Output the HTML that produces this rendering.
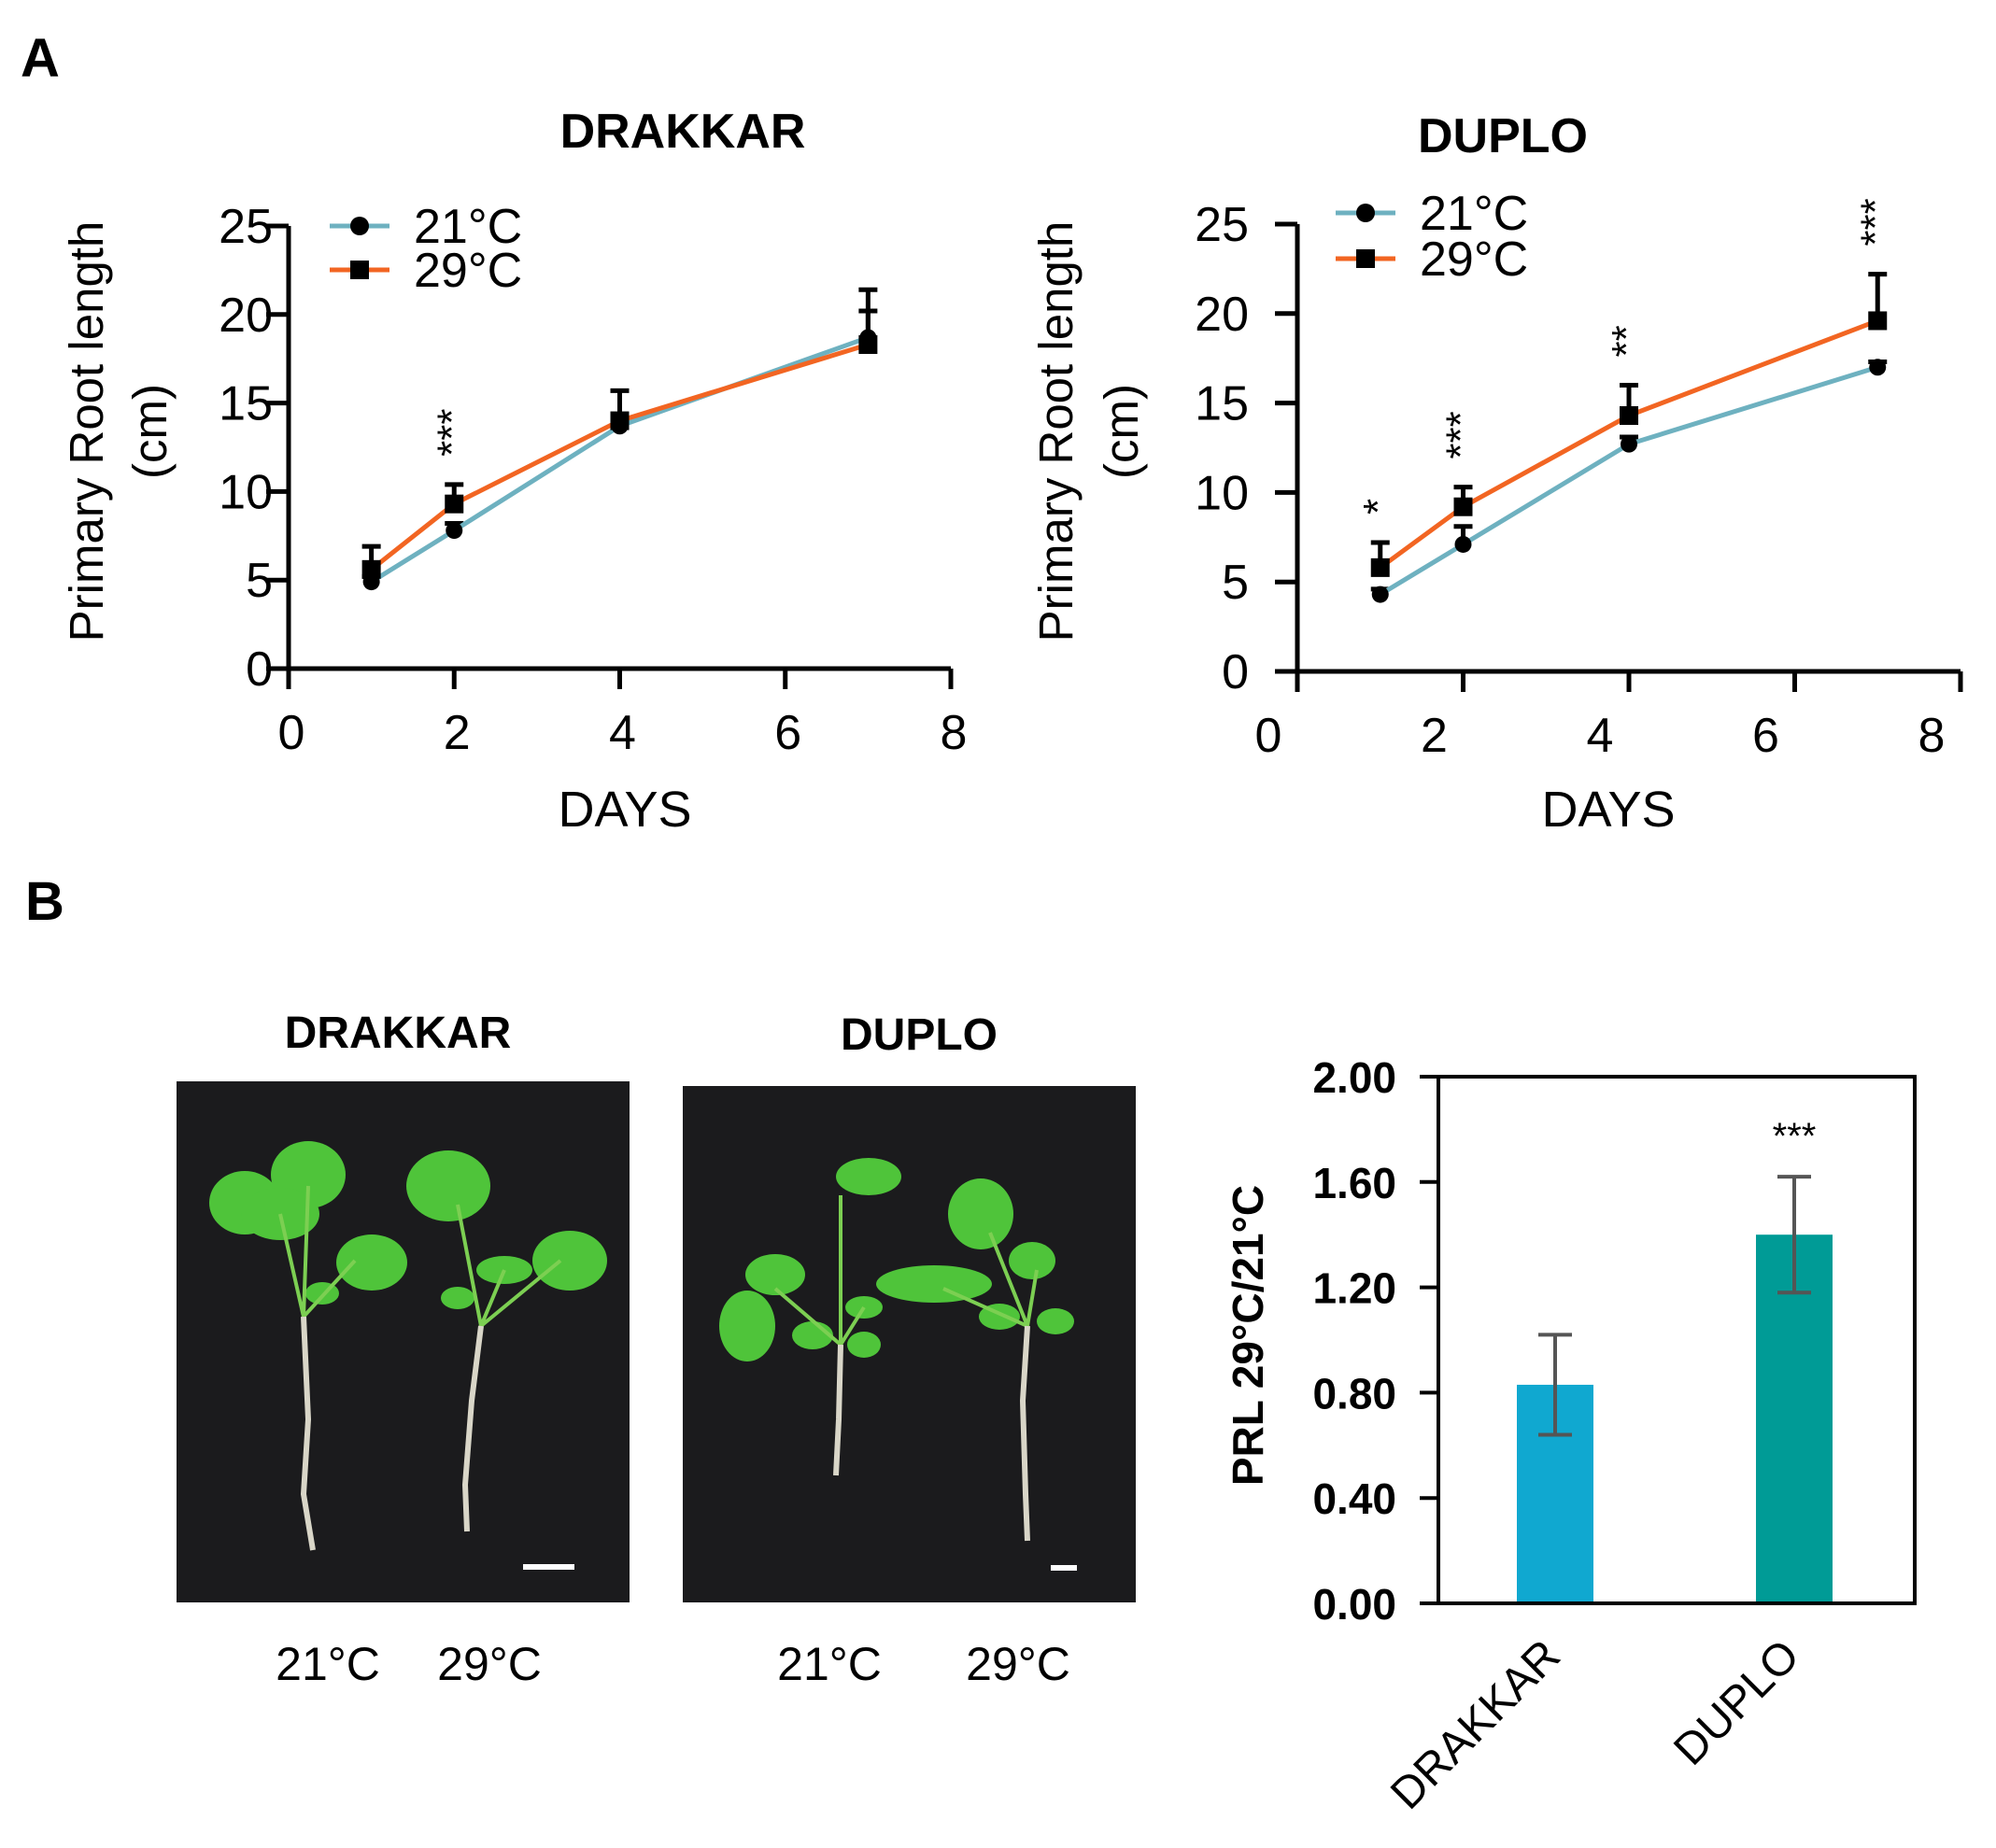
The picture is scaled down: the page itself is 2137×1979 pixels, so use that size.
<!DOCTYPE html>
<html><head><meta charset="utf-8"><style>
html,body{margin:0;padding:0;background:#fff}
svg{display:block;font-family:"Liberation Sans",Arial,sans-serif}
</style></head><body>
<svg id="fig" width="2137" height="1979" viewBox="0 0 2137 1979" xmlns="http://www.w3.org/2000/svg">
<text x="22" y="82" font-size="58" font-weight="bold">A</text>
<text x="27" y="985" font-size="58" font-weight="bold">B</text>
<g id="chartA1"></g>
<g id="chartA2"></g>
<g id="photos">
 <text x="426" y="1122" font-size="48" font-weight="bold" text-anchor="middle">DRAKKAR</text>
 <text x="984" y="1124" font-size="48" font-weight="bold" text-anchor="middle">DUPLO</text>
 <rect x="189" y="1158" width="485" height="558" fill="#1b1b1d"/>
 <rect x="731" y="1163" width="485" height="553" fill="#1b1b1d"/>
 <g fill="#4fc43a">
  <ellipse cx="262" cy="1288" rx="38" ry="34"/><ellipse cx="330" cy="1258" rx="40" ry="36"/><ellipse cx="300" cy="1300" rx="42" ry="28"/><ellipse cx="398" cy="1352" rx="38" ry="30"/><ellipse cx="345" cy="1385" rx="18" ry="12"/>
  <ellipse cx="480" cy="1270" rx="45" ry="38"/><ellipse cx="610" cy="1350" rx="40" ry="32"/><ellipse cx="540" cy="1360" rx="30" ry="15"/><ellipse cx="490" cy="1390" rx="18" ry="12"/>
  <ellipse cx="830" cy="1365" rx="32" ry="22"/><ellipse cx="800" cy="1420" rx="30" ry="38"/><ellipse cx="930" cy="1260" rx="35" ry="20"/><ellipse cx="870" cy="1430" rx="22" ry="15"/><ellipse cx="925" cy="1400" rx="20" ry="12"/><ellipse cx="925" cy="1440" rx="18" ry="14"/>
  <ellipse cx="1050" cy="1300" rx="35" ry="38"/><ellipse cx="1000" cy="1375" rx="62" ry="20"/><ellipse cx="1105" cy="1350" rx="25" ry="20"/><ellipse cx="1130" cy="1415" rx="20" ry="14"/><ellipse cx="1070" cy="1410" rx="22" ry="14"/>
 </g>
 <g stroke="#7ccf52" stroke-width="4" fill="none">
  <path d="M325 1410 L300 1300 M325 1410 L330 1270 M325 1410 L380 1350"/><path d="M515 1420 L490 1290 M515 1420 L600 1350 M515 1420 L540 1360"/>
  <path d="M900 1440 L900 1280 M900 1440 L830 1380 M900 1440 L925 1400"/><path d="M1100 1420 L1060 1320 M1100 1420 L1010 1380 M1100 1420 L1110 1360"/>
 </g>
 <g stroke="#d9d6c8" stroke-width="6" fill="none">
  <path d="M325 1410 L330 1520 L325 1600 L335 1660"/><path d="M515 1420 L505 1500 L498 1590 L500 1640"/>
  <path d="M900 1440 L898 1520 L895 1580"/><path d="M1100 1420 L1095 1500 L1098 1600 L1100 1650"/>
 </g>
 <rect x="560" y="1675" width="55" height="6" fill="#fff"/>
 <rect x="1125" y="1676" width="28" height="6" fill="#fff"/>
 <text x="351" y="1799" font-size="50" text-anchor="middle">21°C</text>
 <text x="524" y="1799" font-size="50" text-anchor="middle">29°C</text>
 <text x="888" y="1799" font-size="50" text-anchor="middle">21°C</text>
 <text x="1090" y="1799" font-size="50" text-anchor="middle">29°C</text>
</g>
<g id="chartB"></g>
</svg>
<script>
const days = [1, 2, 4, 7];
const drakkar21 = [4.9, 7.8, 13.7, 18.7];
const drakkar21Err = [0.3, 0.4, 0.4, 1.5];
const drakkar29 = [5.6, 9.3, 14.0, 18.3];
const drakkar29Err = [1.3, 1.1, 1.7, 3.1];
const drakkarStars = ["", "***", "", ""];
const duplo21 = [4.3, 7.1, 12.7, 17.0];
const duplo21Err = [0.3, 1.0, 0.4, 0.3];
const duplo29 = [5.8, 9.2, 14.3, 19.6];
const duplo29Err = [1.4, 1.1, 1.7, 2.6];
const duploStars = ["*", "***", "**", "***"];
const xTicks = [0, 2, 4, 6, 8];
const yTicks = [0, 5, 10, 15, 20, 25];
const barCats = ["DRAKKAR", "DUPLO"];
const barVals = [0.83, 1.40];
const barErr = [0.19, 0.22];
const barStars = ["", "***"];
const barTicks = ["0.00", "0.40", "0.80", "1.20", "1.60", "2.00"];

const NS = "http://www.w3.org/2000/svg";
function mk(parent, tag, attrs, txt) {
  const e = document.createElementNS(NS, tag);
  for (const k in attrs) e.setAttribute(k, attrs[k]);
  if (txt !== undefined) e.textContent = txt;
  parent.appendChild(e);
  return e;
}

function lineChart(g, cfg) {
  const X = v => cfg.x0 + (v / 8) * (cfg.x8 - cfg.x0);
  const Y = v => cfg.y0 + (v / 25) * (cfg.y25 - cfg.y0);
  let e;
  e = mk(g, "text", {x: cfg.titleX, y: cfg.titleY, "font-size": 52, "font-weight": "bold", "text-anchor": "middle"}, cfg.title);
  
  
  e = mk(g, "line", {x1: cfg.x0, y1: Y(0), x2: cfg.x8, y2: Y(0), stroke: "#000", "stroke-width": 5});
  
  
  e = mk(g, "line", {x1: cfg.x0, y1: Y(0) + 2, x2: cfg.x0, y2: Y(25), stroke: "#000", "stroke-width": 5});
  
  
  xTicks.forEach(t => {
    const l = mk(g, "line", {x1: X(t), y1: Y(0), x2: X(t), y2: Y(0) + 22, stroke: "#000", "stroke-width": 5});
    
    
    const tx = mk(g, "text", {x: X(t) + cfg.labelShift, y: Y(0) + 86, "font-size": 52, "text-anchor": "middle"}, String(t));
    
    
  });
  yTicks.forEach(t => {
    const l = mk(g, "line", {x1: cfg.x0 - 24, y1: Y(t), x2: cfg.x0, y2: Y(t), stroke: "#000", "stroke-width": 5});
    
    
    const tx = mk(g, "text", {x: cfg.yLabelX, y: Y(t) + 18, "font-size": 52, "text-anchor": "end"}, String(t));
    
    
  });
  e = mk(g, "text", {x: cfg.xTitleX, y: 885, "font-size": 54, "text-anchor": "middle"}, "DAYS");
  
  
  e = mk(g, "text", {transform: `translate(${cfg.yt1},462) rotate(-90)`, "font-size": 51, "text-anchor": "middle"}, "Primary Root length");
  
  
  e = mk(g, "text", {transform: `translate(${cfg.yt2},462) rotate(-90)`, "font-size": 51, "text-anchor": "middle"}, "(cm)");
  
  
  [[cfg.s29, cfg.e29], [cfg.s21, cfg.e21]].forEach(([s, er]) => {
    days.forEach((d, i) => {
      const b = mk(g, "path", {d: `M${X(d)} ${Y(s[i])} V${Y(s[i] + er[i])} M${X(d) - 10} ${Y(s[i] + er[i])} H${X(d) + 10}`, stroke: "#000", "stroke-width": 5, fill: "none"});
      
      
    });
  });
  e = mk(g, "polyline", {points: days.map((d, i) => X(d) + "," + Y(cfg.s21[i])).join(" "), stroke: "#6eb1c0", "stroke-width": 5, fill: "none"});
  
  
  e = mk(g, "polyline", {points: days.map((d, i) => X(d) + "," + Y(cfg.s29[i])).join(" "), stroke: "#f26522", "stroke-width": 5, fill: "none"});
  
  
  days.forEach((d, i) => {
    const c = mk(g, "circle", {cx: X(d), cy: Y(cfg.s21[i]), r: 9, fill: "#000"});
    
    
    const r = mk(g, "rect", {x: X(d) - 10, y: Y(cfg.s29[i]) - 10, width: 20, height: 20, fill: "#000"});
    
    
    if (cfg.stars[i]) {
      const top = cfg.s29[i] + cfg.e29[i];
      const st = mk(g, "text", {transform: `translate(${X(d) + 12},${Y(top) - 30}) rotate(-90)`, "font-size": 44}, cfg.stars[i]);
      
      
    }
  });
  [["21°C", "#6eb1c0", "c", cfg.legY1], ["29°C", "#f26522", "s", cfg.legY2]].forEach(([lab, col, sh, ly]) => {
    const l = mk(g, "line", {x1: cfg.legX, y1: ly, x2: cfg.legX + 64, y2: ly, stroke: col, "stroke-width": 5});
    
    
    const m = sh === "c" ? mk(g, "circle", {cx: cfg.legX + 32, cy: ly, r: 10, fill: "#000"}) : mk(g, "rect", {x: cfg.legX + 22, y: ly - 10, width: 20, height: 20, fill: "#000"});
    
    
    const t = mk(g, "text", {x: cfg.legX + 90, y: ly + 18, "font-size": 52}, lab);
    
    
  });
}

lineChart(document.getElementById("chartA1"), {
  title: "DRAKKAR", titleX: 731, titleY: 158, x0: 309, x8: 1018, y0: 716, y25: 242,
  labelShift: 3, yLabelX: 292, xTitleX: 669, yt1: 110, yt2: 178,
  s21: drakkar21, e21: drakkar21Err, s29: drakkar29, e29: drakkar29Err, stars: drakkarStars,
  legX: 353, legY1: 242, legY2: 289
});
lineChart(document.getElementById("chartA2"), {
  title: "DUPLO", titleX: 1609, titleY: 163, x0: 1389, x8: 2099, y0: 719, y25: 240,
  labelShift: -31, yLabelX: 1337, xTitleX: 1722, yt1: 1148, yt2: 1218,
  s21: duplo21, e21: duplo21Err, s29: duplo29, e29: duplo29Err, stars: duploStars,
  legX: 1430, legY1: 228, legY2: 277
});

(function barChart() {
  const g = document.getElementById("chartB");
  const L = 1540, R = 2050, T = 1153, B = 1717;
  const Y = v => B - (v / 2) * (B - T);
  const centers = [1665, 1921];
  const cols = ["#10a8d0", "#009b96"];
  let e;
  barCats.forEach((c, i) => {
    const r = mk(g, "rect", {x: centers[i] - 41, y: Y(barVals[i]), width: 82, height: B - Y(barVals[i]), fill: cols[i]});
    
    
    const eb = mk(g, "path", {d: `M${centers[i]} ${Y(barVals[i] - barErr[i])} V${Y(barVals[i] + barErr[i])} M${centers[i] - 18} ${Y(barVals[i] + barErr[i])} H${centers[i] + 18} M${centers[i] - 18} ${Y(barVals[i] - barErr[i])} H${centers[i] + 18}`, stroke: "#555", "stroke-width": 4, fill: "none"});
    
    
    if (barStars[i]) {
      const st = mk(g, "text", {x: centers[i], y: Y(barVals[i] + barErr[i]) - 30, "font-size": 40, "text-anchor": "middle"}, barStars[i]);
      
      
    }
    const lab = mk(g, "text", {transform: `translate(${centers[i] + 8},1776) rotate(-45)`, "font-size": 48, "text-anchor": "end"}, c);
    
    
  });
  e = mk(g, "rect", {x: L, y: T, width: R - L, height: B - T, fill: "none", stroke: "#000", "stroke-width": 4});
  
  
  barTicks.forEach(t => {
    const v = parseFloat(t);
    const l = mk(g, "line", {x1: L - 20, y1: Y(v), x2: L, y2: Y(v), stroke: "#000", "stroke-width": 4});
    
    
    const tx = mk(g, "text", {x: 1495, y: Y(v) + 17, "font-size": 46, "font-weight": "bold", "text-anchor": "end"}, t);
    
    
  });
  e = mk(g, "text", {transform: "translate(1352,1430) rotate(-90)", "font-size": 46, "font-weight": "bold", "text-anchor": "middle"}, "PRL 29°C/21°C");
  
  
})();
</script>
</body></html>
